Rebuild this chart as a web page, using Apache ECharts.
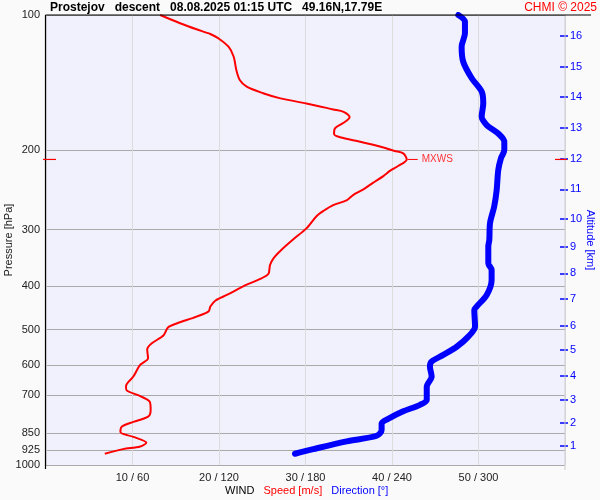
<!DOCTYPE html>
<html>
<head>
<meta charset="utf-8">
<script src="https://cdn.jsdelivr.net/npm/echarts@6/dist/echarts.min.js"></script>
<style>
html,body{margin:0;padding:0;background:#fafafa;}
#c{width:600px;height:500px;}
</style>
</head>
<body>
<div id="c"></div>
<script>
// ---- data ----
const pressureTicks = [100, 200, 300, 400, 500, 600, 700, 850, 925, 1000];
const speedTicks = [10, 20, 30, 40, 50];
const directionTicks = [60, 120, 180, 240, 300];
const altitudeKm = [1, 2, 3, 4, 5, 6, 7, 8, 9, 10, 11, 12, 13, 14, 15, 16];
const altitudePressure = [906, 805, 716, 633, 555, 491, 428, 375, 327, 284, 244, 209, 178, 152.3, 130.5, 111.4];

const speedPressure = [100, 104.3, 107.6, 110.2, 112.6, 117.6, 123.8, 132.5, 139.5, 144.3, 149.2, 153.2, 157.2, 162.1, 164.1, 168.7, 173.6, 178.7, 183.9, 187.0, 191.3, 196.0, 200.5, 203, 209.4, 216.6, 221.8, 228, 236, 244, 251.3, 257.8, 264.6, 272.3, 279.6, 298, 315, 332.8, 347.3, 359.3, 376.3, 386.4, 397.5, 418.9, 431, 444.5, 455.5, 468, 484.8, 495, 514.6, 537.3, 553.6, 579.2, 598.7, 636, 668, 681.3, 703, 724, 754.6, 781, 802, 822, 845, 866, 892, 910, 922, 944];
const speedValues = [13.2, 15.5, 17.4, 19.0, 19.9, 21.1, 21.7, 22.0, 22.4, 23.2, 25.1, 27.1, 30.1, 33.2, 34.4, 35.1, 34.4, 33.4, 33.3, 34.0, 36.3, 38.6, 40.3, 41.3, 41.7, 40.7, 39.8, 39.0, 37.8, 36.7, 35.5, 34.8, 33.2, 32.1, 31.3, 30.1, 28.6, 27.2, 26.3, 25.9, 25.7, 24.7, 23.2, 20.9, 19.6, 19.0, 18.8, 17.4, 15.1, 14.1, 13.6, 12.2, 11.7, 11.8, 10.9, 10.1, 9.25, 9.3, 10.9, 12.0, 12.1, 11.8, 10.1, 8.75, 8.6, 10.1, 11.6, 10.9, 8.9, 6.8];

const dirPressure = [100, 103.5, 109.8, 117.6, 127, 138.2, 148, 157.2, 168.2, 175.6, 183.4, 191.3, 199.6, 208, 221.1, 244.9, 266.4, 290, 316.2, 326.5, 356.2, 368.6, 388, 418.9, 444.5, 452.3, 493, 518.4, 546, 569.3, 588.7, 604, 636, 670, 716.9, 735, 760, 786, 808, 835.8, 861, 886, 922, 944];
const dirValues = [286, 290.6, 290.6, 288.3, 289.4, 295.3, 302.2, 303.3, 302.2, 305.7, 313.7, 317.9, 317.9, 315.6, 313.7, 312.6, 310.9, 308.0, 307.5, 306.8, 306.8, 309.1, 309.1, 305.7, 298.7, 297.1, 297.6, 292.9, 284.9, 275.6, 267.5, 266.3, 267.5, 264.1, 264.1, 259.4, 247.8, 238.6, 232.8, 232.8, 229.4, 208.6, 185.4, 172.7];

// ---- chart ----
const FONT = '"Liberation Sans", Arial, sans-serif';
const DIR_PER_SPEED = directionTicks[0] / speedTicks[0];

const speedData = speedValues.map((s, i) => [s, speedPressure[i]]);
const dirData = dirValues.map((d, i) => [d / DIR_PER_SPEED, dirPressure[i]]);

function nearestKm(v) {
  let best = 0, bd = Infinity;
  altitudePressure.forEach((p, i) => {
    const d = Math.abs(Math.log(p) - Math.log(v));
    if (d < bd) { bd = d; best = i; }
  });
  return String(altitudeKm[best]);
}

const chart = echarts.init(document.getElementById('c'), null, {renderer: 'canvas'});

const option = {
  backgroundColor: '#fafafa',
  animation: false,
  textStyle: {fontFamily: FONT},
  grid: {left: 46, right: 35, top: 15, bottom: 35, show: true, backgroundColor: '#f1f1fd', borderWidth: 0,
    containLabel: false, outerBoundsMode: 'none'},
  xAxis: {
    type: 'value', min: 0, max: 60, interval: 10,
    axisLine: {show: false}, axisTick: {show: false},
    splitLine: {show: true, lineStyle: {color: '#dcdcdc', width: 1}},
    axisLabel: {
      color: '#222', fontSize: 11, margin: 7, fontFamily: FONT,
      formatter: function (v) {
        const i = speedTicks.indexOf(v);
        return i < 0 ? '' : speedTicks[i] + ' / ' + directionTicks[i];
      }
    }
  },
  yAxis: [
    {
      type: 'log', logBase: 10, min: 100, max: 1000, inverse: true,
      name: 'Pressure [hPa]', nameLocation: 'middle', nameGap: 32, nameMoveOverlap: false,
      nameTextStyle: {color: '#222', fontSize: 11, fontFamily: FONT},
      axisLine: {show: false},
      axisTick: {show: false, customValues: pressureTicks},
      axisLabel: {customValues: pressureTicks, color: '#222', fontSize: 11, margin: 6, fontFamily: FONT,
        formatter: function (v) { return String(Math.round(v)); }},
      splitLine: {show: true, lineStyle: {color: '#aaaaaa', width: 1}},
      minorSplitLine: {show: false}
    },
    {
      type: 'log', logBase: 10, min: 100, max: 1000, inverse: true,
      position: 'right', offset: -5,
      name: 'Altitude [km]', nameLocation: 'middle', nameRotate: -90, nameGap: 25, nameMoveOverlap: false,
      nameTextStyle: {color: '#0000ff', fontSize: 11, fontFamily: FONT},
      axisLine: {show: false},
      axisTick: {show: true, customValues: altitudePressure, length: 8, lineStyle: {color: '#0000ff', width: 1.5}},
      axisLabel: {customValues: altitudePressure, color: '#0000ff', fontSize: 11, margin: 10, fontFamily: FONT,
        formatter: nearestKm},
      splitLine: {show: false}
    }
  ],
  series: [
    {
      name: 'Direction', type: 'line', xAxisIndex: 0, yAxisIndex: 0,
      data: dirData, showSymbol: false, symbol: 'none', smooth: 0.3,
      lineStyle: {color: '#0000ff', width: 6, cap: 'round', join: 'round'},
      z: 3
    },
    {
      name: 'Speed', type: 'line', xAxisIndex: 0, yAxisIndex: 0,
      data: speedData, showSymbol: false, symbol: 'none', smooth: 0.3,
      lineStyle: {color: '#ff0000', width: 2},
      z: 4
    }
  ]
};
chart.setOption(option);

// decorations
let iMax = 0;
speedValues.forEach((s, i) => { if (s > speedValues[iMax]) iMax = i; });
const mx = chart.convertToPixel({xAxisIndex: 0, yAxisIndex: 0}, [speedValues[iMax], speedPressure[iMax]]);
const tl = chart.convertToPixel({xAxisIndex: 0, yAxisIndex: 0}, [0, 100]);
const br = chart.convertToPixel({xAxisIndex: 0, yAxisIndex: 0}, [60, 1000]);
const L = tl[0], T = tl[1], R = br[0], B = br[1];

chart.setOption({
  graphic: [
    {type: 'line', shape: {x1: L - 0.5, y1: T, x2: 591, y2: T}, style: {stroke: '#000', lineWidth: 1.2}, z: 10},
    {type: 'line', shape: {x1: L - 0.5, y1: T, x2: L - 0.5, y2: B + 4}, style: {stroke: '#000', lineWidth: 1.2}, z: 10},
    {type: 'line', shape: {x1: R, y1: T, x2: R, y2: B + 5}, style: {stroke: '#cccccc', lineWidth: 1}, z: 1},
    {type: 'line', shape: {x1: L - 3, y1: mx[1], x2: L + 10, y2: mx[1]}, style: {stroke: '#ff0000', lineWidth: 1.2}, z: 11},
    {type: 'line', shape: {x1: R - 10, y1: mx[1], x2: R + 2, y2: mx[1]}, style: {stroke: '#ff0000', lineWidth: 1.2}, z: 11},
    {type: 'line', shape: {x1: mx[0] + 1, y1: mx[1], x2: mx[0] + 11, y2: mx[1]}, style: {stroke: '#ff0000', lineWidth: 1}, z: 11},
    {type: 'text', x: mx[0] + 15, y: mx[1], style: {text: 'MXWS', fill: '#ff3333', fontSize: 10, fontFamily: FONT, verticalAlign: 'middle'}, z: 11},
    {type: 'text', x: 50, y: 8, style: {text: 'Prostejov   descent   08.08.2025 01:15 UTC   49.16N,17.79E', fill: '#000', fontSize: 12, fontWeight: 'bold', fontFamily: FONT, verticalAlign: 'middle'}, z: 11},
    {type: 'text', x: 597, y: 8, style: {text: 'CHMI \u00a9 2025', fill: '#ff0000', fontSize: 12, fontFamily: FONT, align: 'right', verticalAlign: 'middle'}, z: 11},
    {type: 'text', x: 225, y: 491, style: {
      text: '{a|WIND}   {b|Speed [m/s]}   {c|Direction [\u00b0]}',
      fontSize: 11, fontFamily: FONT, verticalAlign: 'middle',
      rich: {a: {fill: '#000', fontSize: 11, fontFamily: FONT}, b: {fill: '#ff0000', fontSize: 11, fontFamily: FONT}, c: {fill: '#0000ff', fontSize: 11, fontFamily: FONT}}
    }, z: 11}
  ]
});
</script>
</body>
</html>
